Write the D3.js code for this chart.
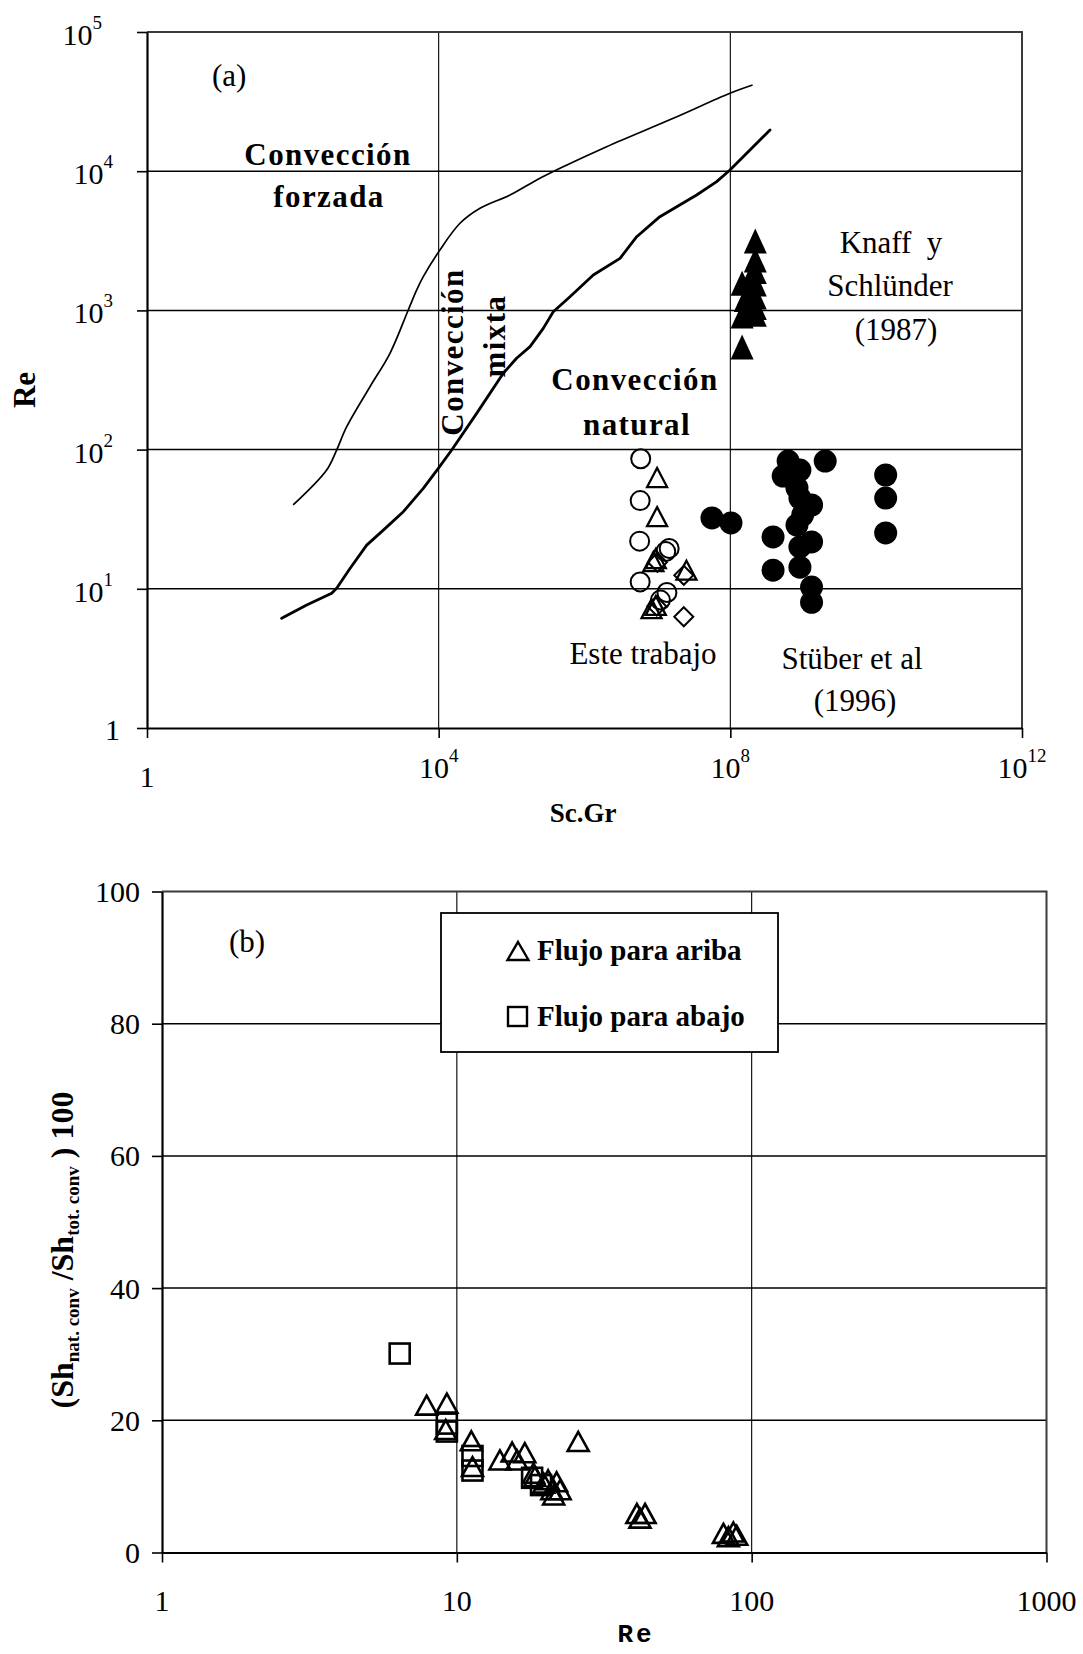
<!DOCTYPE html>
<html>
<head>
<meta charset="utf-8">
<script src="https://cdn.jsdelivr.net/npm/d3@7"></script>
<style>
  html, body { margin: 0; padding: 0; background: #fff; }
  svg text { font-family: "Liberation Serif", "Times New Roman", serif; fill: #000; }
</style>
</head>
<body>
<svg id="fig" width="1083" height="1654"></svg>
<script>
// ===== Panel (a): Re versus Sc.Gr (log-log) =====
// Boundary between forced and mixed convection  [Sc.Gr, Re]
const forcedMixedBoundary = [
  [101, 40], [291, 71.3], [399, 99.3], [548, 146], [1143, 283], [2150, 492],
  [3830, 1007], [5000, 1402], [6150, 1746], [10400, 2716], [19600, 4227],
  [36900, 5420], [95100, 6745], [2.21e5, 8650], [4.61e5, 10490], [2.01e6, 15000],
  [1.65e7, 23990], [9.89e7, 36300], [2.02e8, 41600]
];
// Boundary between mixed and natural convection  [Sc.Gr, Re]
const mixedNaturalBoundary = [
  [70.3, 6.14], [155, 7.65], [341, 9.29], [399, 10.1], [608, 14.0], [1030, 20.6],
  [1742, 26.4], [3275, 35.8], [6150, 52.7], [9890, 73.4], [15100, 99.3],
  [33200, 182], [76900, 353], [1.17e5, 453], [1.79e5, 549], [2.72e5, 743],
  [3.73e5, 979], [6.32e5, 1253], [1.32e6, 1795], [3.07e6, 2366], [5.2e6, 3385],
  [1.08e7, 4713], [3.45e7, 6745], [6.5e7, 8413], [9.89e7, 10200], [3.5e8, 19770]
];
// This work (open markers)
const esteCircles = [
  [5.9e6, 86], [5.8e6, 43], [5.7e6, 22], [5.8e6, 11.2],
  [1.3e7, 18.5], [1.45e7, 19.5], [1.35e7, 9.4], [1.1e7, 8.3]
];
const esteTriangles = [
  [9.9e6, 63], [9.9e6, 33], [8.8e6, 15.7], [9.5e6, 16.5],
  [2.5e7, 13.6], [8.3e6, 7.2], [9.5e6, 7.6]
];
const esteDiamonds = [
  [2.3e7, 6.3], [2.3e7, 12.5], [1.0e7, 15.5], [9.8e6, 7.5]
];
// Knaff y Schlünder (1987)
const knaffSchlunder = [
  [2.2e8, 3150], [2.2e8, 2300], [2.2e8, 1900], [2.2e8, 1550], [2.2e8, 1250],
  [2.2e8, 1050], [2.2e8, 940], [1.8e8, 1350], [1.8e8, 1000], [1.9e8, 1700],
  [1.6e8, 1200], [1.45e8, 1570], [1.45e8, 910], [1.45e8, 546]
];
// Stüber et al (1996)
const stuber = [
  [5.6e7, 32.3], [1.02e8, 29.7], [3.85e8, 23.6], [3.85e8, 13.6], [6.2e8, 82.8],
  [9.0e8, 71.3], [5.3e8, 64.6], [8.2e8, 53], [9.0e8, 44.9], [1.3e9, 40],
  [9.8e8, 33.9], [8.2e8, 28.7], [9.0e8, 20], [1.3e9, 21.7], [9.0e8, 14.3],
  [1.3e9, 10.3], [1.3e9, 8.0], [2.0e9, 82.8], [1.35e10, 65.7], [1.35e10, 44.9],
  [1.35e10, 25.2]
];
const aXTickExponents = [0, 4, 8, 12];
const aYTickExponents = [0, 1, 2, 3, 4, 5];

// ===== Panel (b): natural share of Sherwood number vs Re =====
const flujoArriba = [
  [7.9, 22.3], [9.25, 22.6], [9.17, 18.6], [11.2, 16.9], [11.3, 13.0],
  [14.0, 14.0], [15.4, 15.2], [16.0, 14.0], [17.0, 15.1], [25.8, 16.8],
  [18.2, 12.0], [18.4, 11.5], [19.7, 10.5], [20.4, 11.0], [21.8, 10.7],
  [21.0, 9.5], [22.4, 9.5], [21.3, 8.7], [40.8, 5.9], [43.5, 5.9],
  [41.8, 5.2], [80.2, 2.9], [86.7, 3.1], [83.4, 2.4], [89, 2.6]
];
const flujoAbajo = [
  [6.4, 30.1], [9.25, 19.5], [9.25, 18.3], [11.3, 14.6], [11.3, 12.4],
  [18.0, 11.3], [19.3, 10.2]
];
const bXTicks = [1, 10, 100, 1000];
const bYTicks = [0, 20, 40, 60, 80, 100];

// ---------------------------------------------------------------
const svg = d3.select("#fig");
svg.append("rect").attr("width", 1083).attr("height", 1654).attr("fill", "#fff");

const tri = (w, h) => `M0,${-h / 2}L${w / 2},${h / 2}L${-w / 2},${h / 2}Z`;
const dia = (s) => `M0,${-s / 2}L${s / 2},0L0,${s / 2}L${-s / 2},0Z`;

function styleAxis(g) {
  g.select(".domain").attr("stroke", "#000").attr("stroke-width", 2.2);
  g.selectAll(".tick line").attr("stroke", "#000").attr("stroke-width", 1.6);
  g.selectAll(".tick text").remove();
}

// ---------- Panel (a) ----------
const xA = d3.scaleLog().domain([1, 1e12]).range([147, 1022]);
const yA = d3.scaleLog().domain([1, 1e5]).range([728, 32]);
const gA = svg.append("g");

// gridlines
gA.append("g").selectAll("line").data([1, 2, 3, 4]).join("line")
  .attr("x1", xA.range()[0]).attr("x2", xA.range()[1])
  .attr("y1", d => yA(Math.pow(10, d))).attr("y2", d => yA(Math.pow(10, d)))
  .attr("stroke", "#000").attr("stroke-width", 1.5);
gA.append("g").selectAll("line").data([4, 8]).join("line")
  .attr("y1", yA.range()[0]).attr("y2", yA.range()[1])
  .attr("x1", d => xA(Math.pow(10, d))).attr("x2", d => xA(Math.pow(10, d)))
  .attr("stroke", "#000").attr("stroke-width", 1.1);

// top/right frame
gA.append("path")
  .attr("d", `M${xA.range()[0]},${yA.range()[1]}H${xA.range()[1]}V${yA.range()[0]}`)
  .attr("fill", "none").attr("stroke", "#3a3a3a").attr("stroke-width", 2);

// axes
gA.append("g").attr("transform", `translate(${xA.range()[0]},0)`)
  .call(d3.axisLeft(yA).tickValues(aYTickExponents.map(e => Math.pow(10, e)))
    .tickSize(10).tickSizeOuter(0).tickFormat(""))
  .call(styleAxis);
gA.append("g").attr("transform", `translate(0,${yA.range()[0]})`)
  .call(d3.axisBottom(xA).tickValues(aXTickExponents.map(e => Math.pow(10, e)))
    .tickSize(10).tickSizeOuter(0).tickFormat(""))
  .call(styleAxis);

// y tick labels (powers of ten)
aYTickExponents.forEach(e => {
  const yy = yA(Math.pow(10, e));
  if (e === 0) {
    gA.append("text").attr("x", 120).attr("y", yy + 12).attr("text-anchor", "end")
      .attr("font-size", 30).text("1");
  } else {
    const t = gA.append("text").attr("x", e === 5 ? 102 : 113).attr("y", yy + 13)
      .attr("text-anchor", "end").attr("font-size", 30);
    t.append("tspan").text("10");
    t.append("tspan").attr("font-size", 19).attr("dy", -16).text(e);
  }
});
// x tick labels
aXTickExponents.forEach(e => {
  const xx = xA(Math.pow(10, e));
  if (e === 0) {
    gA.append("text").attr("x", xx).attr("y", 787).attr("text-anchor", "middle")
      .attr("font-size", 30).text("1");
  } else {
    const t = gA.append("text").attr("x", xx).attr("y", 778)
      .attr("text-anchor", "middle").attr("font-size", 30);
    t.append("tspan").text("10");
    t.append("tspan").attr("font-size", 19).attr("dy", -16).text(e);
  }
});

// axis titles
gA.append("text").attr("transform", "translate(35,390) rotate(-90)")
  .attr("text-anchor", "middle").attr("font-weight", "bold").attr("font-size", 31).text("Re");
gA.append("text").attr("x", 583).attr("y", 822).attr("text-anchor", "middle")
  .attr("font-weight", "bold").attr("font-size", 27).text("Sc.Gr");

// regime boundaries
const lineSmooth = d3.line().x(d => xA(d[0])).y(d => yA(d[1])).curve(d3.curveCatmullRom.alpha(0.5));
const lineA = d3.line().x(d => xA(d[0])).y(d => yA(d[1]));
gA.append("path").datum(forcedMixedBoundary).attr("d", lineSmooth)
  .attr("fill", "none").attr("stroke", "#000").attr("stroke-width", 1.7);
gA.append("path").datum(mixedNaturalBoundary).attr("d", lineA)
  .attr("fill", "none").attr("stroke", "#000").attr("stroke-width", 2.8)
  .attr("stroke-linejoin", "round").attr("stroke-linecap", "round");

// data: Stüber et al
gA.append("g").selectAll("circle").data(stuber).join("circle")
  .attr("cx", d => xA(d[0])).attr("cy", d => yA(d[1])).attr("r", 11.5).attr("fill", "#000");
// data: Knaff y Schlünder
gA.append("g").selectAll("path").data(knaffSchlunder).join("path")
  .attr("transform", d => `translate(${xA(d[0])},${yA(d[1])})`)
  .attr("d", tri(23, 25)).attr("fill", "#000");
// data: this work
gA.append("g").selectAll("circle").data(esteCircles).join("circle")
  .attr("cx", d => xA(d[0])).attr("cy", d => yA(d[1])).attr("r", 9.5)
  .attr("fill", "none").attr("stroke", "#000").attr("stroke-width", 2);
gA.append("g").selectAll("path").data(esteTriangles).join("path")
  .attr("transform", d => `translate(${xA(d[0])},${yA(d[1])})`)
  .attr("d", tri(20, 19)).attr("fill", "none").attr("stroke", "#000").attr("stroke-width", 2.3);
gA.append("g").selectAll("path").data(esteDiamonds).join("path")
  .attr("transform", d => `translate(${xA(d[0])},${yA(d[1])})`)
  .attr("d", dia(19)).attr("fill", "none").attr("stroke", "#000").attr("stroke-width", 2);

// annotations
const ann = (x, y, s, opts = {}) => {
  const t = gA.append("text").attr("x", x).attr("y", y).attr("text-anchor", opts.anchor || "middle")
    .attr("font-size", opts.size || 31).text(s);
  if (opts.bold) t.attr("font-weight", "bold").attr("letter-spacing", 1.4);
  if (opts.rotate) t.attr("x", null).attr("y", null)
    .attr("transform", `translate(${x},${y}) rotate(-90)`);
  return t;
};
ann(212, 86, "(a)", { anchor: "start" });
ann(328, 165, "Convección", { bold: true });
ann(329, 207, "forzada", { bold: true });
ann(463, 352, "Convección", { bold: true, rotate: true });
ann(505, 336, "mixta", { bold: true, rotate: true });
ann(635, 390, "Convección", { bold: true });
ann(637, 435, "natural", { bold: true });
ann(891, 253, "Knaff\u00a0\u00a0y");
ann(890, 296, "Schlünder");
ann(896, 340, "(1987)");
ann(643, 664, "Este trabajo");
ann(852, 669, "Stüber et al");
ann(855, 711, "(1996)");

// ---------- Panel (b) ----------
const xB = d3.scaleLog().domain([1, 1000]).range([162, 1046.5]);
const yB = d3.scaleLinear().domain([0, 100]).range([1552.5, 891.5]);
const gB = svg.append("g");

gB.append("g").selectAll("line").data(bYTicks.filter(v => v > 0 && v < 100)).join("line")
  .attr("x1", xB.range()[0]).attr("x2", xB.range()[1])
  .attr("y1", d => yB(d)).attr("y2", d => yB(d))
  .attr("stroke", "#000").attr("stroke-width", 1.5);
gB.append("g").selectAll("line").data([10, 100]).join("line")
  .attr("y1", yB.range()[0]).attr("y2", yB.range()[1])
  .attr("x1", d => xB(d)).attr("x2", d => xB(d))
  .attr("stroke", "#000").attr("stroke-width", 1.1);
gB.append("path")
  .attr("d", `M${xB.range()[0]},${yB.range()[1]}H${xB.range()[1]}V${yB.range()[0]}`)
  .attr("fill", "none").attr("stroke", "#3a3a3a").attr("stroke-width", 2);

gB.append("g").attr("transform", `translate(${xB.range()[0]},0)`)
  .call(d3.axisLeft(yB).tickValues(bYTicks).tickSize(10).tickSizeOuter(0).tickFormat(""))
  .call(styleAxis);
gB.append("g").attr("transform", `translate(0,${yB.range()[0]})`)
  .call(d3.axisBottom(xB).tickValues(bXTicks).tickSize(10).tickSizeOuter(0).tickFormat(""))
  .call(styleAxis);

bYTicks.forEach(v => {
  gB.append("text").attr("x", 140).attr("y", yB(v) + 10.5).attr("text-anchor", "end")
    .attr("font-size", 30).text(v);
});
bXTicks.forEach(v => {
  gB.append("text").attr("x", xB(v)).attr("y", 1611).attr("text-anchor", "middle")
    .attr("font-size", 30).text(v);
});

// axis titles
const yt = gB.append("text").attr("transform", "translate(73,1250) rotate(-90)")
  .attr("text-anchor", "middle").attr("font-weight", "bold").attr("font-size", 32);
yt.append("tspan").text("(Sh");
yt.append("tspan").attr("font-size", 19).attr("dy", 6).text("nat. conv");
yt.append("tspan").attr("dy", -6).text(" /Sh");
yt.append("tspan").attr("font-size", 19).attr("dy", 6).text("tot. conv");
yt.append("tspan").attr("dy", -6).text(" ) 100");
gB.append("text").attr("x", 636).attr("y", 1642).attr("text-anchor", "middle")
  .style("font-family", "'Liberation Mono', 'Courier New', monospace")
  .attr("font-weight", "bold").attr("font-size", 26).attr("letter-spacing", 3).text("Re");

gB.append("text").attr("x", 229).attr("y", 952).attr("font-size", 31).text("(b)");

// legend
const leg = gB.append("g");
leg.append("rect").attr("x", 441).attr("y", 913).attr("width", 337).attr("height", 139)
  .attr("fill", "#fff").attr("stroke", "#000").attr("stroke-width", 1.8);
leg.append("path").attr("transform", "translate(518,951)").attr("d", tri(21, 18))
  .attr("fill", "none").attr("stroke", "#000").attr("stroke-width", 2.4);
leg.append("text").attr("x", 537).attr("y", 960).attr("font-weight", "bold")
  .attr("font-size", 29).text("Flujo para ariba");
leg.append("rect").attr("x", 508).attr("y", 1007).attr("width", 19).attr("height", 19)
  .attr("fill", "none").attr("stroke", "#000").attr("stroke-width", 2.4);
leg.append("text").attr("x", 537).attr("y", 1026).attr("font-weight", "bold")
  .attr("font-size", 29).text("Flujo para abajo");

// data
gB.append("g").selectAll("rect").data(flujoAbajo).join("rect")
  .attr("x", d => xB(d[0]) - 10).attr("y", d => yB(d[1]) - 10)
  .attr("width", 20).attr("height", 20)
  .attr("fill", "none").attr("stroke", "#000").attr("stroke-width", 2.6);
gB.append("g").selectAll("path").data(flujoArriba).join("path")
  .attr("transform", d => `translate(${xB(d[0])},${yB(d[1])})`)
  .attr("d", tri(21, 19)).attr("fill", "none").attr("stroke", "#000").attr("stroke-width", 2.6)
  .attr("stroke-linejoin", "miter");
</script>
</body>
</html>
